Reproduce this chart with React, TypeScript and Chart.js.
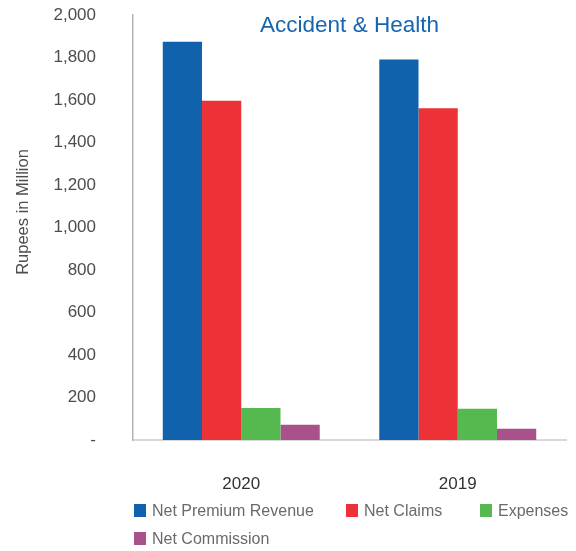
import React, { useEffect, useRef } from "react";
import { Chart, registerables } from "chart.js";

Chart.register(...registerables);

const categories = ["2020", "2019"];
const seriesNames = ["Net Premium Revenue", "Net Claims", "Expenses", "Net Commission"];
const netPremiumRevenue = [1874, 1791];
const netClaims = [1597, 1561];
const expenses = [151, 147];
const netCommission = [72, 53];
const seriesColors = ["#1162AC", "#EC3237", "#55B94F", "#A9518A"];
const chartTitle = "Accident & Health";
const yAxisTitle = "Rupees in Million";

const FONT = "'Liberation Sans', Arial, Helvetica, sans-serif";

export default function App() {
  const canvasRef = useRef<HTMLCanvasElement | null>(null);

  useEffect(() => {
    document.body.style.margin = "0";
    const canvas = canvasRef.current;
    if (!canvas) return;

    const textPlugin = {
      id: "extraTexts",
      afterDraw(chart: any) {
        const { ctx, chartArea } = chart;
        ctx.save();
        ctx.font = `22.5px ${FONT}`;
        ctx.fillStyle = "#1565B0";
        ctx.textAlign = "center";
        ctx.textBaseline = "alphabetic";
        ctx.fillText(chartTitle, (chartArea.left + chartArea.right) / 2, 32);
        ctx.restore();

        ctx.save();
        ctx.font = `16.5px ${FONT}`;
        ctx.fillStyle = "#4d4d4d";
        ctx.textAlign = "center";
        ctx.textBaseline = "alphabetic";
        ctx.translate(27.5, 212);
        ctx.rotate(-Math.PI / 2);
        ctx.fillText(yAxisTitle, 0, 0);
        ctx.restore();
      },
    };

    const allSeries = [netPremiumRevenue, netClaims, expenses, netCommission];

    const chart = new Chart(canvas, {
      type: "bar",
      data: {
        labels: categories,
        datasets: allSeries.map((d, i) => ({
          label: seriesNames[i],
          data: d,
          backgroundColor: seriesColors[i],
          borderWidth: 0,
          barPercentage: 1,
          categoryPercentage: 0.725,
        })),
      },
      options: {
        animation: false,
        responsive: false,
        maintainAspectRatio: false,
        layout: { padding: { top: 15, right: 10, left: 0, bottom: 0 } },
        plugins: {
          legend: { display: false },
          title: { display: false },
          tooltip: { enabled: false },
        },
        scales: {
          x: {
            grid: { display: false, drawTicks: false },
            border: { display: true, color: "#d9d9d9", width: 2 },
            ticks: {
              padding: 34,
              color: "#333333",
              font: { family: FONT, size: 17 },
            },
            afterFit(scale: any) {
              scale.height = 111;
            },
          },
          y: {
            min: 0,
            max: 2000,
            grid: { display: false, drawTicks: false },
            border: { display: true, color: "#b3b3b3", width: 1.5 },
            ticks: {
              stepSize: 200,
              padding: 37,
              color: "#4d4d4d",
              font: { family: FONT, size: 17 },
              callback: (v: any) => (Number(v) === 0 ? "-" : Number(v).toLocaleString("en-US")),
            },
            afterFit(scale: any) {
              scale.width = 133;
              scale.paddingTop = 8;
              scale.paddingBottom = 8;
            },
          },
        },
      },
      plugins: [textPlugin],
    });

    return () => chart.destroy();
  }, []);

  const legendCols = [0, 212, 346];

  return (
    <div style={{ position: "relative", width: 576, height: 551, fontFamily: FONT }}>
      <canvas ref={canvasRef} width={576} height={551} style={{ display: "block", width: 576, height: 551 }} />
      {seriesNames.map((name, i) => {
        const row = i < 3 ? 0 : 1;
        const col = i < 3 ? i : 0;
        return (
          <div
            key={name}
            style={{
              position: "absolute",
              left: 134 + legendCols[col],
              top: 501 + row * 28,
              height: 19,
              display: "flex",
              alignItems: "center",
              whiteSpace: "nowrap",
              fontSize: 16,
              color: "#6a6a6a",
            }}
          >
            <span style={{ display: "inline-block", width: 12, height: 13, background: seriesColors[i], marginRight: 6 }} />
            <span>{name}</span>
          </div>
        );
      })}
    </div>
  );
}
